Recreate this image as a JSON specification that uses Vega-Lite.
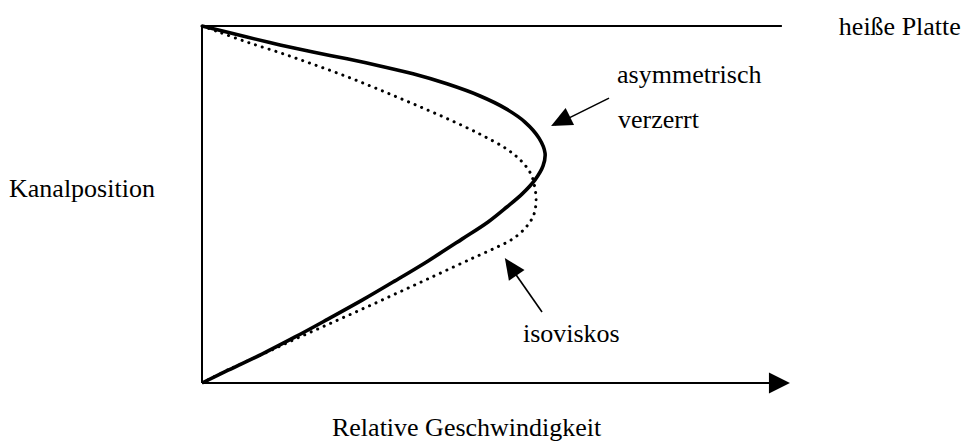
{
  "$schema": "https://vega.github.io/schema/vega-lite/v6.json",
  "width": 595,
  "height": 357,
  "autosize": {"type": "none"},
  "padding": {"left": 202, "top": 26, "right": 168, "bottom": 58},
  "background": "white",
  "config": {"view": {"stroke": null}},
  "datasets": {
    "curves": [
      {"curve": "iso", "i": 0, "v": 0, "p": 1},
      {"curve": "iso", "i": 1, "v": 0.048, "p": 0.984},
      {"curve": "iso", "i": 2, "v": 0.134, "p": 0.955},
      {"curve": "iso", "i": 3, "v": 0.233, "p": 0.925},
      {"curve": "iso", "i": 4, "v": 0.331, "p": 0.893},
      {"curve": "iso", "i": 5, "v": 0.433, "p": 0.858},
      {"curve": "iso", "i": 6, "v": 0.531, "p": 0.821},
      {"curve": "iso", "i": 7, "v": 0.630, "p": 0.782},
      {"curve": "iso", "i": 8, "v": 0.731, "p": 0.741},
      {"curve": "iso", "i": 9, "v": 0.830, "p": 0.697},
      {"curve": "iso", "i": 10, "v": 0.910, "p": 0.655},
      {"curve": "iso", "i": 11, "v": 0.955, "p": 0.620},
      {"curve": "iso", "i": 12, "v": 0.982, "p": 0.585},
      {"curve": "iso", "i": 13, "v": 0.994, "p": 0.545},
      {"curve": "iso", "i": 14, "v": 0.997, "p": 0.505},
      {"curve": "iso", "i": 15, "v": 0.989, "p": 0.468},
      {"curve": "iso", "i": 16, "v": 0.964, "p": 0.433},
      {"curve": "iso", "i": 17, "v": 0.925, "p": 0.402},
      {"curve": "iso", "i": 18, "v": 0.881, "p": 0.381},
      {"curve": "iso", "i": 19, "v": 0.830, "p": 0.359},
      {"curve": "iso", "i": 20, "v": 0.776, "p": 0.336},
      {"curve": "iso", "i": 21, "v": 0.675, "p": 0.292},
      {"curve": "iso", "i": 22, "v": 0.576, "p": 0.249},
      {"curve": "iso", "i": 23, "v": 0.478, "p": 0.207},
      {"curve": "iso", "i": 24, "v": 0.376, "p": 0.164},
      {"curve": "iso", "i": 25, "v": 0.278, "p": 0.123},
      {"curve": "iso", "i": 26, "v": 0.179, "p": 0.080},
      {"curve": "iso", "i": 27, "v": 0.078, "p": 0.037},
      {"curve": "iso", "i": 28, "v": 0, "p": 0},
      {"curve": "asym", "i": 0, "v": 0, "p": 1},
      {"curve": "asym", "i": 1, "v": 0.134, "p": 0.969},
      {"curve": "asym", "i": 2, "v": 0.233, "p": 0.947},
      {"curve": "asym", "i": 3, "v": 0.331, "p": 0.927},
      {"curve": "asym", "i": 4, "v": 0.433, "p": 0.908},
      {"curve": "asym", "i": 5, "v": 0.531, "p": 0.888},
      {"curve": "asym", "i": 6, "v": 0.630, "p": 0.866},
      {"curve": "asym", "i": 7, "v": 0.731, "p": 0.838},
      {"curve": "asym", "i": 8, "v": 0.830, "p": 0.804},
      {"curve": "asym", "i": 9, "v": 0.904, "p": 0.770},
      {"curve": "asym", "i": 10, "v": 0.964, "p": 0.731},
      {"curve": "asym", "i": 11, "v": 1.006, "p": 0.686},
      {"curve": "asym", "i": 12, "v": 1.024, "p": 0.644},
      {"curve": "asym", "i": 13, "v": 1.018, "p": 0.608},
      {"curve": "asym", "i": 14, "v": 0.994, "p": 0.569},
      {"curve": "asym", "i": 15, "v": 0.955, "p": 0.529},
      {"curve": "asym", "i": 16, "v": 0.910, "p": 0.493},
      {"curve": "asym", "i": 17, "v": 0.854, "p": 0.451},
      {"curve": "asym", "i": 18, "v": 0.776, "p": 0.403},
      {"curve": "asym", "i": 19, "v": 0.675, "p": 0.342},
      {"curve": "asym", "i": 20, "v": 0.576, "p": 0.286},
      {"curve": "asym", "i": 21, "v": 0.478, "p": 0.232},
      {"curve": "asym", "i": 22, "v": 0.376, "p": 0.179},
      {"curve": "asym", "i": 23, "v": 0.278, "p": 0.129},
      {"curve": "asym", "i": 24, "v": 0.179, "p": 0.081},
      {"curve": "asym", "i": 25, "v": 0.078, "p": 0.036},
      {"curve": "asym", "i": 26, "v": 0, "p": 0}
    ],
    "frame": [
      {"name": "wall", "v": 0, "p": 0, "v2": 0, "p2": 1},
      {"name": "plate", "v": 0, "p": 1, "v2": 1.731, "p2": 1},
      {"name": "axis", "v": 0, "p": 0, "v2": 1.701, "p2": 0}
    ],
    "shafts": [
      {"name": "asym", "v": 1.215, "p": 0.798, "v2": 1.054, "p2": 0.723},
      {"name": "iso", "v": 1.015, "p": 0.199, "v2": 0.913, "p2": 0.336}
    ],
    "heads": [
      {"name": "axis", "v": 1.755, "p": 0},
      {"name": "asym", "v": 1.042, "p": 0.720},
      {"name": "iso", "v": 0.904, "p": 0.350}
    ],
    "labels": [
      {"text": "heiße Platte", "v": 1.901, "p": 0.975},
      {"text": "asymmetrisch", "v": 1.239, "p": 0.840},
      {"text": "verzerrt", "v": 1.242, "p": 0.714},
      {"text": "isoviskos", "v": 0.958, "p": 0.115},
      {"text": "Kanalposition", "v": -0.576, "p": 0.521},
      {"text": "Relative Geschwindigkeit", "v": 0.388, "p": -0.148}
    ]
  },
  "layer": [
    {
      "data": {"name": "frame"},
      "mark": {"type": "rule", "color": "black", "strokeWidth": 2},
      "encoding": {
        "x": {"field": "v", "type": "quantitative", "scale": {"domain": [0, 1.7761], "nice": false, "zero": false}, "axis": null},
        "y": {"field": "p", "type": "quantitative", "scale": {"domain": [0, 1], "nice": false, "zero": false}, "axis": null},
        "x2": {"field": "v2"},
        "y2": {"field": "p2"}
      }
    },
    {
      "data": {"name": "curves"},
      "transform": [{"filter": "datum.curve === 'iso'"}],
      "mark": {"type": "line", "color": "black", "strokeWidth": 3, "strokeDash": [0.1, 7], "strokeCap": "round", "interpolate": "catmull-rom"},
      "encoding": {
        "x": {"field": "v", "type": "quantitative", "scale": {"domain": [0, 1.7761], "nice": false, "zero": false}, "axis": null},
        "y": {"field": "p", "type": "quantitative", "scale": {"domain": [0, 1], "nice": false, "zero": false}, "axis": null},
        "order": {"field": "i", "type": "quantitative"}
      }
    },
    {
      "data": {"name": "curves"},
      "transform": [{"filter": "datum.curve === 'asym'"}],
      "mark": {"type": "line", "color": "black", "strokeWidth": 3.6, "interpolate": "catmull-rom"},
      "encoding": {
        "x": {"field": "v", "type": "quantitative", "scale": {"domain": [0, 1.7761], "nice": false, "zero": false}, "axis": null},
        "y": {"field": "p", "type": "quantitative", "scale": {"domain": [0, 1], "nice": false, "zero": false}, "axis": null},
        "order": {"field": "i", "type": "quantitative"}
      }
    },
    {
      "data": {"name": "shafts"},
      "mark": {"type": "rule", "color": "black", "strokeWidth": 1.6},
      "encoding": {
        "x": {"field": "v", "type": "quantitative", "scale": {"domain": [0, 1.7761], "nice": false, "zero": false}, "axis": null},
        "y": {"field": "p", "type": "quantitative", "scale": {"domain": [0, 1], "nice": false, "zero": false}, "axis": null},
        "x2": {"field": "v2"},
        "y2": {"field": "p2"}
      }
    },
    {
      "data": {"name": "heads"},
      "transform": [{"filter": "datum.name === 'axis'"}],
      "mark": {"type": "point", "shape": "M 0 0 L -2 -1 L -2 1 Z", "filled": true, "color": "black", "opacity": 1, "size": 441, "angle": 0, "strokeWidth": 0},
      "encoding": {
        "x": {"field": "v", "type": "quantitative", "scale": {"domain": [0, 1.7761], "nice": false, "zero": false}, "axis": null},
        "y": {"field": "p", "type": "quantitative", "scale": {"domain": [0, 1], "nice": false, "zero": false}, "axis": null}
      }
    },
    {
      "data": {"name": "heads"},
      "transform": [{"filter": "datum.name === 'asym'"}],
      "mark": {"type": "point", "shape": "M 0 0 L -2 -0.9 L -2 0.9 Z", "filled": true, "color": "black", "opacity": 1, "size": 441, "angle": 153.4, "strokeWidth": 0},
      "encoding": {
        "x": {"field": "v", "type": "quantitative", "scale": {"domain": [0, 1.7761], "nice": false, "zero": false}, "axis": null},
        "y": {"field": "p", "type": "quantitative", "scale": {"domain": [0, 1], "nice": false, "zero": false}, "axis": null}
      }
    },
    {
      "data": {"name": "heads"},
      "transform": [{"filter": "datum.name === 'iso'"}],
      "mark": {"type": "point", "shape": "M 0 0 L -2 -0.9 L -2 0.9 Z", "filled": true, "color": "black", "opacity": 1, "size": 441, "angle": 235.6, "strokeWidth": 0},
      "encoding": {
        "x": {"field": "v", "type": "quantitative", "scale": {"domain": [0, 1.7761], "nice": false, "zero": false}, "axis": null},
        "y": {"field": "p", "type": "quantitative", "scale": {"domain": [0, 1], "nice": false, "zero": false}, "axis": null}
      }
    },
    {
      "data": {"name": "labels"},
      "mark": {"type": "text", "font": "Liberation Serif", "fontSize": 26, "align": "left", "baseline": "alphabetic", "color": "black"},
      "encoding": {
        "x": {"field": "v", "type": "quantitative", "scale": {"domain": [0, 1.7761], "nice": false, "zero": false}, "axis": null},
        "y": {"field": "p", "type": "quantitative", "scale": {"domain": [0, 1], "nice": false, "zero": false}, "axis": null},
        "text": {"field": "text", "type": "nominal"}
      }
    }
  ]
}
